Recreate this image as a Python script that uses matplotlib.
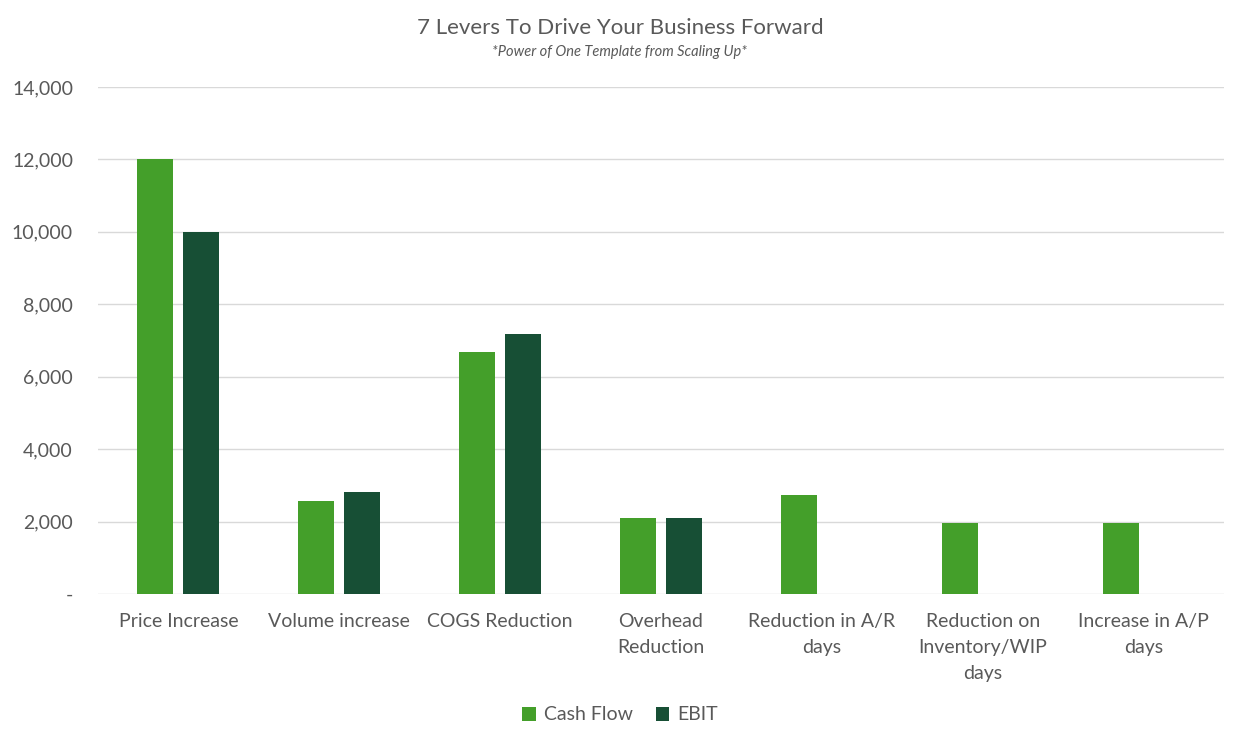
import matplotlib.pyplot as plt
import numpy as np
from matplotlib.ticker import FuncFormatter

#========== DATA ==========#

categories = ["Price Increase", "Volume increase", "COGS Reduction",
              "Overhead\nReduction", "Reduction in A/R\ndays",
              "Reduction on\nInventory/WIP\ndays", "Increase in A/P\ndays"]
cash_flow = [12000, 2570, 6680, 2100, 2730, 1960, 1960]
ebit = [10000, 2820, 7180, 2100, 0, 0, 0]

CF_COLOR = "#449F2A"
EBIT_COLOR = "#174F35"
TEXT = "#595959"

plt.rcParams['font.family'] = ['Lato', 'DejaVu Sans']

#========== PLOT ==========#

fig = plt.figure(figsize=(12.4, 7.43), dpi=100)
ax = fig.add_axes([98/1240, 1 - 594/743, 1126/1240, 507/743])

x = np.arange(len(categories))
width = 0.224
ax.bar(x - 0.143, cash_flow, width, color=CF_COLOR, label="Cash Flow", zorder=3)
ax.bar(x + 0.143, ebit, width, color=EBIT_COLOR, label="EBIT", zorder=3)

ax.set_xlim(-0.5, len(categories) - 0.5)
ax.set_ylim(0, 14000)
ax.set_yticks(range(0, 14001, 2000))
ax.yaxis.set_major_formatter(FuncFormatter(lambda v, p: "-" if v == 0 else f"{v:,.0f}"))
ax.grid(axis="y", color="#D9D9D9", linewidth=1, zorder=0)
for s in ax.spines.values():
    s.set_visible(False)
ax.tick_params(axis="both", length=0, colors=TEXT, labelsize=14)
ax.tick_params(axis="y", pad=18)
ax.tick_params(axis="x", pad=14)
ax.set_xticks(x)
ax.set_xticklabels(categories, linespacing=1.62)

fig.text(0.5, 1 - 28/743, "7 Levers To Drive Your Business Forward",
         ha="center", va="center", fontsize=16, color=TEXT)
fig.text(0.5, 1 - 52/743, "*Power of One Template from Scaling Up*",
         ha="center", va="center", fontsize=10.5, style="italic", color=TEXT)

leg = ax.legend(loc="center", bbox_to_anchor=(0.5, 1 - 715/743), bbox_transform=fig.transFigure,
                ncol=2, frameon=False, fontsize=14, handlelength=0.7, handleheight=0.7,
                handletextpad=0.4, columnspacing=1.2)
for t in leg.get_texts():
    t.set_color(TEXT)

fig.savefig("out.png", dpi=100)
